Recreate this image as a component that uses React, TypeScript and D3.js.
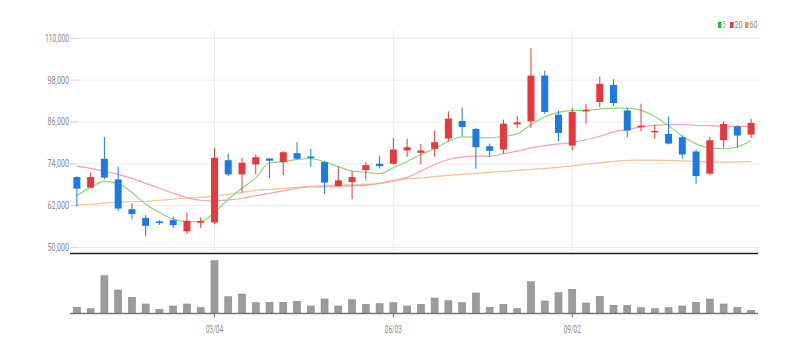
import React from "react";
import * as d3 from "d3";

const dates = [
  "2023-12-25","2024-01-01","2024-01-08","2024-01-15","2024-01-22","2024-01-29","2024-02-05","2024-02-12","2024-02-19","2024-02-26",
  "2024-03-04","2024-03-11","2024-03-18","2024-03-25","2024-04-01","2024-04-08","2024-04-15","2024-04-22","2024-04-29","2024-05-06",
  "2024-05-13","2024-05-20","2024-05-27","2024-06-03","2024-06-10","2024-06-17","2024-06-24","2024-07-01","2024-07-08","2024-07-15",
  "2024-07-22","2024-07-29","2024-08-05","2024-08-12","2024-08-19","2024-08-26","2024-09-02","2024-09-09","2024-09-16","2024-09-23",
  "2024-09-30","2024-10-07","2024-10-14","2024-10-21","2024-10-28","2024-11-04","2024-11-11","2024-11-18","2024-11-25","2024-12-02",
];

const opens = [70200,67175,75450,69540,60980,58500,57470,57850,54620,57080,57190,75050,70970,73820,75530,74480,77050,76100,74480,67630,68770,72200,74020,74020,77820,77160,78300,81240,86290,84010,79040,78100,85320,86180,99300,88090,79240,89030,91710,96650,89310,84470,83040,82580,81610,77530,71170,80760,84750,82380];
const highs = [70480,71450,81720,73170,62700,59270,57850,58900,60040,58620,78590,76960,75730,76680,75600,77620,80190,78300,74770,73340,71910,74480,76190,81440,81150,79730,83520,89030,90170,84290,79810,86660,87800,107120,100730,89230,90000,91230,99010,98270,90000,91230,85230,87600,82180,78100,81720,86180,84950,86860];
const lows = [61750,67100,69540,60500,58130,53200,56500,55560,53850,55560,56700,70480,65750,70970,69830,70770,75250,73170,65260,67630,63840,69540,72680,74000,76020,73820,76020,80470,81900,72600,76020,76960,84290,84290,88370,80470,77900,85520,90280,90660,81610,83320,81150,79530,75450,68320,70680,78590,78590,81440];
const closes = [66890,70200,70030,61180,59640,56220,56990,56420,57650,57560,75730,70970,74310,75900,74880,77330,75450,75620,68600,69260,70200,73620,73340,78100,78760,77820,80190,86950,84580,78760,77730,85520,85890,99300,88860,82870,88860,89510,96930,91430,83520,84950,83440,79810,76680,70480,80760,85430,82100,85720];
const volumes = [60000,46000,376000,233000,160000,93000,40000,73000,93000,56000,526000,166000,193000,106000,110000,110000,120000,73000,143000,73000,136000,90000,96000,106000,73000,90000,153000,126000,106000,203000,60000,90000,46000,316000,123000,206000,240000,103000,170000,80000,80000,56000,46000,56000,73000,110000,143000,93000,60000,30000];

const ma5 = [64980,67180,68970,68400,65750,62410,60040,58130,57360,57470,60040,63840,66980,70030,74310,74590,75250,75450,74590,73170,71910,71630,71170,72880,74680,76680,78300,80470,81730,81610,81440,81900,82580,85240,87430,88740,89230,89310,89710,90000,90000,89310,87600,84950,81900,79730,78590,78390,78870,80670];
const ma20 = [73340,72680,71910,70970,69830,68400,66980,65550,64320,63550,63350,63640,64120,64840,65550,66260,66980,67400,67400,67550,67690,67830,68400,69260,70110,71910,73820,75250,75910,76190,76190,76880,77620,78590,79240,79730,80010,80960,81900,83150,83810,84580,85040,85240,85240,85040,84950,84750,84750,84750];
const ma60 = [62210,62410,62700,62980,63120,63270,63550,63840,64120,64410,64690,65260,65830,66400,66690,66980,67260,67550,67830,67920,67970,68120,68400,68970,69690,69970,70310,70680,70970,71260,71540,71830,72110,72400,72680,72970,73400,73820,74250,74680,74960,75050,75050,74960,74820,74680,74540,74480,74540,74680];

const yTicks = [50000, 62000, 74000, 86000, 98000, 110000];
const xTickDates = ["2024-03-04", "2024-06-03", "2024-09-02"];
const xTickLabels = ["03/04", "06/03", "09/02"];
const legendLabels = ["5", "20", "60"];

const UP = "#e8383d";
const DOWN = "#1b7be6";
const MA_COLORS = ["#8fd67e", "#f4a3aa", "#f6c495"];
const LEGEND_COLORS = ["#2fb52f", "#e8383d", "#f29a37"];
const TEXT = "#8a8a8a";

export default function App() {
  const W = 805, H = 352;
  const left = 70, right = 758;
  const x = d3.scaleBand<string>().domain(dates).range([left, right]).padding(0);
  const bw = x.bandwidth();
  const cx = (d: string) => (x(d) as number) + bw / 2;
  const y = d3.scaleLinear().domain([50000, 110000]).range([247.5, 38.3]);
  const yv = d3.scaleLinear().domain([0, d3.max(volumes) as number]).range([313.3, 260.7]);
  const bodyW = 7;

  const mkLine = (vals: number[]) =>
    d3.line<number>().x((_, i) => cx(dates[i])).y((v) => y(v)).curve(d3.curveMonotoneX)(vals) as string;

  const fmt = d3.format(",");

  return (
    <svg width={W} height={H} style={{ position: "absolute", left: 0, top: 0 }} fontFamily="Roboto, 'Noto Sans', sans-serif">
      <rect width={W} height={H} fill="#fff" />
      {/* grid */}
      {yTicks.map((t) => (
        <g key={t}>
          <line x1={left} x2={760} y1={y(t)} y2={y(t)} stroke="#ececec" strokeWidth={1} />
          <line x1={left} x2={left + 8} y1={y(t)} y2={y(t)} stroke="#d6d6d6" strokeWidth={1} />
          <text x={69} y={y(t)} dy="0.35em" textAnchor="end" fontSize={10} fill={TEXT}
            textLength={fmt(t).length >= 7 ? 24 : 21.5} lengthAdjust="spacingAndGlyphs">{fmt(t)}</text>
        </g>
      ))}
      {xTickDates.map((d) => (
        <line key={d} x1={cx(d)} x2={cx(d)} y1={30} y2={253} stroke="#ececec" strokeWidth={1} />
      ))}
      {/* MA lines */}
      {[ma60, ma20, ma5].map((s, k) => (
        <path key={k} d={mkLine(s)} fill="none" stroke={MA_COLORS[2 - k]} strokeWidth={1.2} />
      ))}
      {/* candles */}
      {dates.map((d, i) => {
        const o = opens[i], c = closes[i];
        const col = c >= o ? UP : DOWN;
        const top = y(Math.max(o, c));
        const bot = y(Math.min(o, c));
        return (
          <g key={d}>
            <line x1={cx(d)} x2={cx(d)} y1={y(highs[i])} y2={y(lows[i])} stroke={col} strokeWidth={1} />
            <rect x={cx(d) - bodyW / 2} y={top} width={bodyW} height={Math.max(1.5, bot - top)} fill={col} />
          </g>
        );
      })}
      {/* separator */}
      <line x1={left} x2={right} y1={253.5} y2={253.5} stroke="#222" strokeWidth={1.6} />
      {/* volume */}
      {dates.map((d, i) => (
        <rect key={d} x={cx(d) - bodyW / 2} y={yv(volumes[i])} width={bodyW} height={313.3 - yv(volumes[i])}
          fill="#9c9c9c" stroke="#8a8a8a" strokeWidth={0.6} />
      ))}
      <line x1={left} x2={right} y1={313.5} y2={313.5} stroke="#777" strokeWidth={1.3} />
      {xTickDates.map((d, k) => (
        <g key={d}>
          <line x1={cx(d)} x2={cx(d)} y1={313.5} y2={317} stroke="#666" strokeWidth={1} />
          <text x={cx(d)} y={329} dy="0.35em" textAnchor="middle" fontSize={10} fill={TEXT}
            textLength={17} lengthAdjust="spacingAndGlyphs">{xTickLabels[k]}</text>
        </g>
      ))}
      {/* legend */}
      {(() => {
        const xs = [718, 730, 745];
        const tw = [3, 8, 8];
        return legendLabels.map((l, k) => (
          <g key={l}>
            <rect x={xs[k]} y={22} width={3.5} height={6} fill={LEGEND_COLORS[k]} />
            <text x={xs[k] + 4.5} y={25} dy="0.35em" fontSize={9} fill={TEXT} textLength={tw[k]} lengthAdjust="spacingAndGlyphs">{l}</text>
          </g>
        ));
      })()}
    </svg>
  );
}
